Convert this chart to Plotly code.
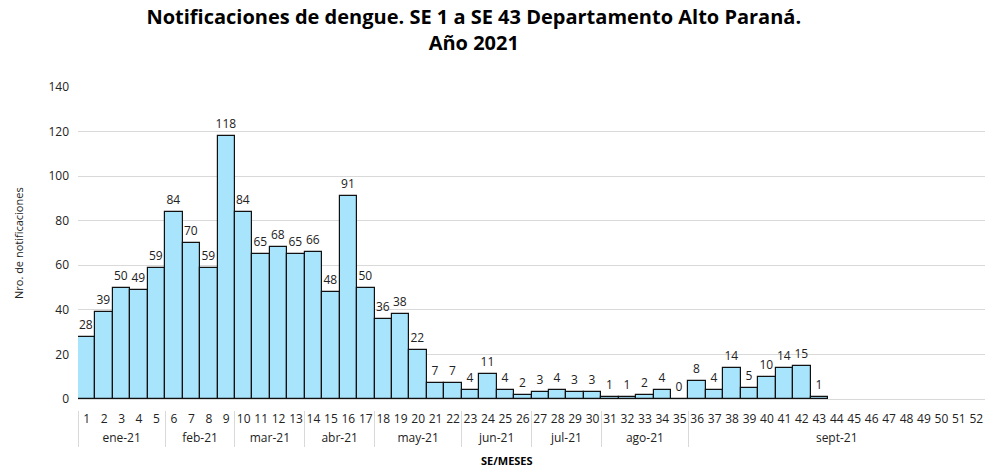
import plotly.graph_objects as go

weeks = [str(i) for i in range(1, 53)]
month_names = ["ene-21", "feb-21", "mar-21", "abr-21", "may-21", "jun-21", "jul-21", "ago-21", "sept-21"]
weeks_per_month = [5, 4, 4, 4, 5, 4, 4, 5, 17]
values = [28, 39, 50, 49, 59, 84, 70, 59, 118, 84,
          65, 68, 65, 66, 48, 91, 50, 36, 38, 22,
          7, 7, 4, 11, 4, 2, 3, 4, 3, 3,
          1, 1, 2, 4, 0, 8, 4, 14, 5, 10,
          14, 15, 1] + [None] * 9

months = []
for m, n in zip(month_names, weeks_per_month):
    months += [m] * n

font_family = "Open Sans, Noto Sans, sans-serif"
BOTTOM = 60
PLOT_H = 470 - 87 - BOTTOM  # plot area height in px
AX_Y = 470 - BOTTOM         # page y of the category axis
LABEL_GAP = 11              # px between bar baseline and the category axis

fig = go.Figure(go.Bar(
    x=[months, weeks],
    y=values,
    marker=dict(color="#A8E4FC", line=dict(color="#111111", width=1.2)),
    text=[("" if v is None else str(v)) for v in values],
    textposition="outside",
    constraintext="none",
    textfont=dict(size=12, color="#222222", family=font_family),
    cliponaxis=False,
))

fig.update_layout(
    width=985, height=470,
    margin=dict(l=78, r=0, t=87, b=BOTTOM),
    paper_bgcolor="white", plot_bgcolor="white",
    bargap=0,
    font=dict(family=font_family, size=12, color="#222222"),
    title=dict(
        text="<b>Notificaciones de dengue. SE 1 a SE 43 Departamento Alto Paraná.<br>Año 2021</b>",
        x=0.481, xanchor="center", y=0.95, yanchor="top",
        font=dict(size=20, color="#000000", family=font_family),
    ),
    showlegend=False,
    annotations=[
        dict(text="<b>SE/MESES</b>", xref="paper", yref="paper", x=0.473, y=-(460 - AX_Y) / PLOT_H,
             xanchor="center", yanchor="middle", showarrow=False,
             font=dict(size=11, color="#000000")),
        dict(text="Nro. de notificaciones", xref="paper", yref="paper", x=0, y=(AX_Y - 243) / PLOT_H,
             xshift=-60, xanchor="center", yanchor="middle", textangle=-90,
             showarrow=False, font=dict(size=11, color="#222222")),
    ],
)
fig.update_xaxes(
    type="multicategory",
    automargin=False,
    anchor="free", position=0,
    tickangle=0,
    showline=False,
    showdividers=True, dividercolor="#d9d9d9", dividerwidth=1,
    tickfont=dict(size=12, color="#222222"),
)
fig.update_yaxes(
    automargin=False,
    domain=[LABEL_GAP / PLOT_H, 1],
    range=[0, 140], dtick=20,
    showgrid=True, gridcolor="#d9d9d9", gridwidth=1,
    zeroline=True, zerolinecolor="#d9d9d9", zerolinewidth=1,
    showline=False,
    ticks="", ticklabelstandoff=8, tickfont=dict(size=12, color="#222222"),
)

fig.write_html(
    "out.html",
    config={"displayModeBar": False},
    post_script="document.body.style.margin='0';document.body.style.overflow='hidden';",
)
